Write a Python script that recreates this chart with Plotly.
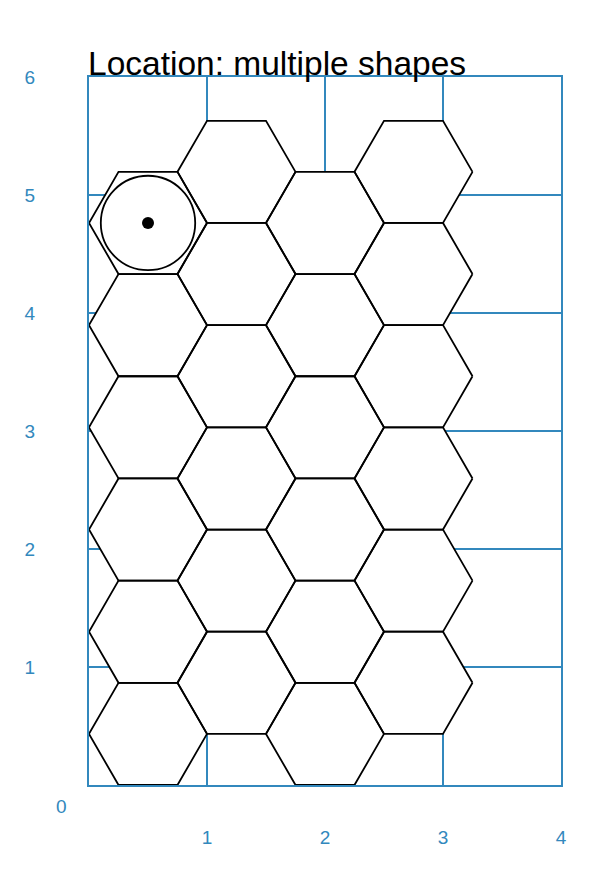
import math
import plotly.graph_objects as go

# Hexagon centres (flat-top hexagons, circumradius 0.5)
hex_x = [0.5] * 6 + [1.25] * 6 + [2.0] * 6 + [2.75] * 6
hex_y = ([0.433, 1.299, 2.165, 3.031, 3.897, 4.763] +
         [0.866, 1.732, 2.598, 3.464, 4.330, 5.196] +
         [0.433, 1.299, 2.165, 3.031, 3.897, 4.763] +
         [0.866, 1.732, 2.598, 3.464, 4.330, 5.196])
hex_r = 0.5

# Location marker
loc_x = [0.5]
loc_y = [4.763]
circle_r = 0.40

x_ticks = [1, 2, 3, 4]
y_ticks = [1, 2, 3, 4, 5, 6]
title_text = "Location: multiple shapes"

BLUE = "#3288bd"

px, py = [], []
for cx, cy in zip(hex_x, hex_y):
    for k in range(7):
        a = math.radians(60 * (k % 6))
        px.append(cx + hex_r * math.cos(a))
        py.append(cy + hex_r * math.sin(a))
    px.append(None)
    py.append(None)

fig = go.Figure()
fig.add_trace(go.Scatter(x=px, y=py, mode="lines", fill="toself",
                         fillcolor="white", line=dict(color="black", width=1.8),
                         hoverinfo="skip", showlegend=False))
fig.add_trace(go.Scatter(x=loc_x, y=loc_y, mode="markers",
                         marker=dict(color="black", size=12),
                         hoverinfo="skip", showlegend=False))
fig.add_shape(type="circle", xref="x", yref="y",
              x0=loc_x[0] - circle_r, x1=loc_x[0] + circle_r,
              y0=loc_y[0] - circle_r, y1=loc_y[0] + circle_r,
              line=dict(color="black", width=1.8))

fig.add_annotation(text=title_text, xref="paper", yref="paper", x=0, y=1,
                   xanchor="left", yanchor="bottom", xshift=-3, yshift=-7,
                   showarrow=False,
                   font=dict(family="Liberation Sans", size=33.5, color="black"))
fig.add_annotation(text="0", xref="x", yref="y", x=0, y=0, xshift=-28, yshift=-21,
                   showarrow=False,
                   font=dict(family="Liberation Sans", size=19, color=BLUE))

axis_common = dict(showgrid=True, gridcolor=BLUE, gridwidth=2, zeroline=False,
                   showline=True, linecolor=BLUE, linewidth=2, mirror=True,
                   ticks="", layer="below traces",
                   tickfont=dict(family="Liberation Sans", size=19, color=BLUE))
fig.update_xaxes(range=[0, 4], tickvals=x_ticks, ticktext=[str(v) for v in x_ticks],
                 ticklabelstandoff=34, **axis_common)
fig.update_yaxes(range=[0, 6], tickvals=y_ticks, ticktext=[str(v) for v in y_ticks],
                 ticklabelstandoff=48, **axis_common)
fig.update_layout(width=607, height=867, margin=dict(l=81, r=54, t=69, b=90),
                  paper_bgcolor="white", plot_bgcolor="white",
                  font=dict(family="Liberation Sans"))
fig.write_html("out.html")
